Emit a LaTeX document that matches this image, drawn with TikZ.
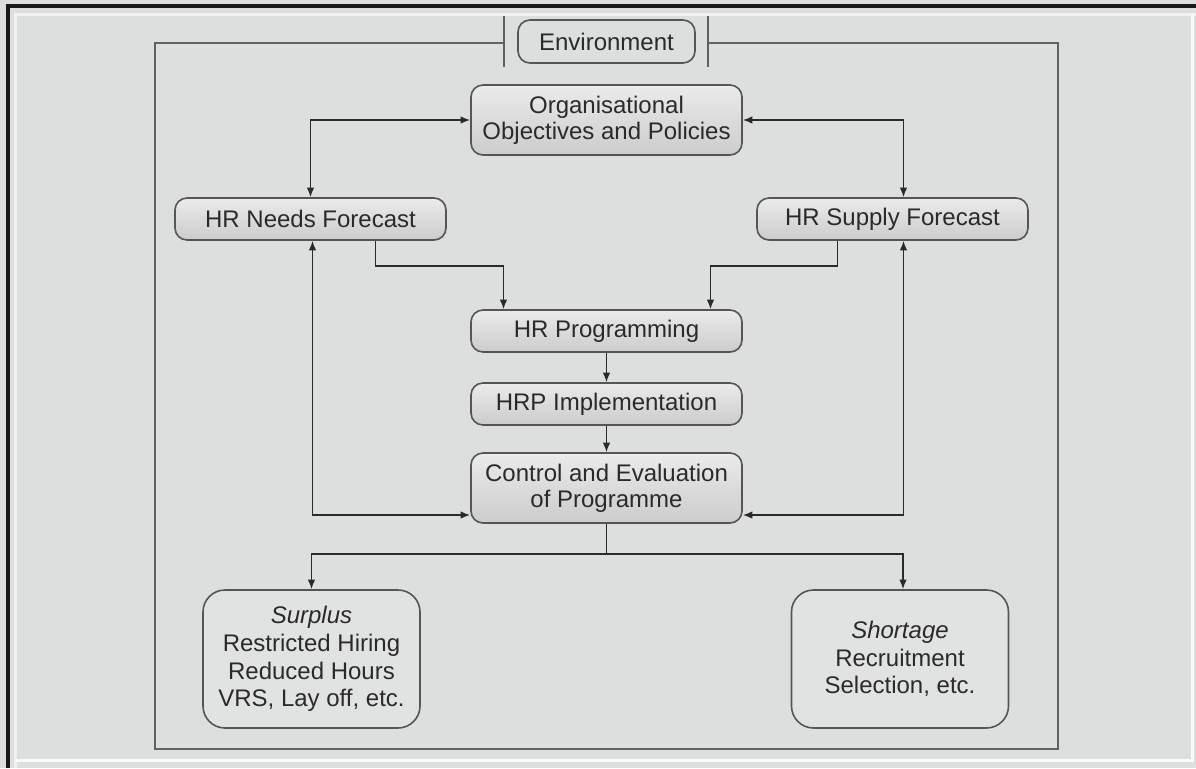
\documentclass[tikz,border=0pt]{standalone}
\usepackage{fontspec}
\setmainfont{Liberation Sans}
\usetikzlibrary{arrows.meta}
\definecolor{pagebg}{HTML}{DCDFDE}
\definecolor{ink}{HTML}{2A2A2A}
\definecolor{boxedge}{HTML}{555555}
\definecolor{flatfill}{HTML}{E1E3E2}
\begin{document}
\begin{tikzpicture}[x=0.5pt,y=-0.5pt,
  box/.style={draw=boxedge,line width=0.8pt,rounded corners=6pt,
    top color=black!8,middle color=white,bottom color=black!20,
    text=ink,align=center,inner sep=0pt,
    font=\fontsize{12}{13}\selectfont},
  plainbox/.style={draw=boxedge,line width=0.8pt,rounded corners=6pt,
    fill=pagebg,text=ink,align=center,inner sep=0pt,
    font=\fontsize{12}{13}\selectfont},
  outcome/.style={draw=boxedge,line width=0.8pt,rounded corners=11pt,
    fill=flatfill,text=ink,align=center,inner sep=0pt,
    minimum width=108.5pt,minimum height=69pt,
    font=\fontsize{12}{13.8}\selectfont},
  link/.style={draw=ink,line width=0.75pt,
    arrows={-Latex[length=4.8pt,width=3.8pt]}},
  twoway/.style={draw=ink,line width=0.75pt,
    arrows={Latex[length=4.8pt,width=3.8pt]-Latex[length=4.8pt,width=3.8pt]}},
  frame/.style={draw=black!62,line width=1pt}]
% page and its border
\useasboundingbox (0,0) rectangle (1196,768);
\fill[pagebg] (0,0) rectangle (1196,768);
\draw[black!6,line width=1.5pt] (15,768) -- (15,14) -- (1196,14);
\draw[white!85!pagebg,line width=1.5pt] (1192,14) -- (1192,760) -- (15,760);
\draw[black!90,line width=2pt] (8,768) -- (8,6) -- (1196,6);

% nodes
\node[plainbox,minimum width=88.5pt,minimum height=21.5pt] (env) at (606.5,41.5) {Environment};
\node[box,minimum width=135.5pt,minimum height=35pt] (org) at (606.5,120) {Organisational\\Objectives and Policies};
\node[box,minimum width=135.5pt,minimum height=21pt] (needs) at (310.5,219) {HR Needs Forecast};
\node[box,minimum width=135.5pt,minimum height=21pt] (supply) at (892.5,219) {HR Supply Forecast};
\node[box,minimum width=135.5pt,minimum height=21pt] (prog) at (606.5,331) {HR Programming};
\node[box,minimum width=135.5pt,minimum height=21pt] (impl) at (606.5,404) {HRP Implementation};
\node[box,minimum width=135.5pt,minimum height=35pt] (ctrl) at (606.5,488) {Control and Evaluation\\of Programme};
\node[outcome] (surplus) at (311.5,659) {\itshape Surplus\\Restricted Hiring\\Reduced Hours\\VRS, Lay off, etc.};
\node[outcome] (shortage) at (900,659) {\itshape Shortage\\Recruitment\\Selection, etc.};

% environment boundary
\draw[frame] ([xshift=-6.5pt]env.west |- 0,43) -- (155,43) -- (155,749) -- (1058,749) -- (1058,43) -- ([xshift=6pt]env.east |- 0,43);
\draw[frame] ([xshift=-6.5pt,yshift=1.5pt]env.north west) -- ([xshift=-6.5pt,yshift=-1.5pt]env.south west);
\draw[frame] ([xshift=6pt,yshift=1.5pt]env.north east) -- ([xshift=6pt,yshift=-1.5pt]env.south east);

% connectors
\draw[twoway] (org.west) -| (needs.north);
\draw[twoway] (org.east) -| ([xshift=5.5pt]supply.north);
\draw[link] ([xshift=32.5pt]needs.south) -- ++(0,25) -| ([xshift=-51.5pt]prog.north);
\draw[link] ([xshift=-27.5pt]supply.south) -- ++(0,25) -| ([xshift=52pt]prog.north);
\draw[link] (prog) -- (impl);
\draw[link] (impl) -- (ctrl);
\draw[twoway] ([yshift=-13.5pt]ctrl.west) -| ([xshift=1pt]needs.south);
\draw[twoway] ([yshift=-13.5pt]ctrl.east) -| ([xshift=5.5pt]supply.south);
\draw[line width=0.75pt,draw=ink] (ctrl.south) -- ++(0,30) coordinate (split);
\draw[link] (split) -| (surplus.north);
\draw[link] (split) -| ([xshift=1.5pt]shortage.north);
\end{tikzpicture}
\end{document}
